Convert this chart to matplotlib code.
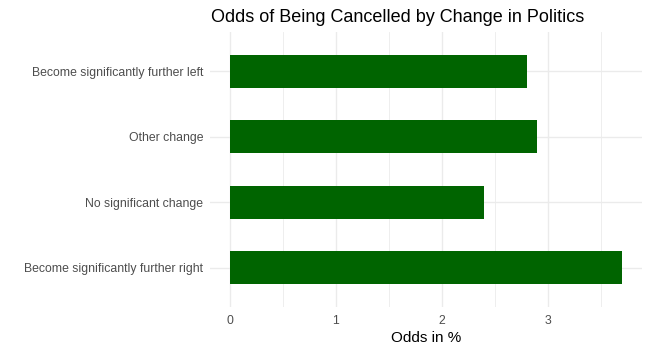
import matplotlib
matplotlib.use("Agg")
import matplotlib.pyplot as plt

categories = ["Become significantly further right", "No significant change",
              "Other change", "Become significantly further left"]
odds = [3.7, 2.4, 2.9, 2.8]
xticks = [0, 1, 2, 3]

plt.rcParams['font.family'] = ['Liberation Sans', 'DejaVu Sans']

fig = plt.figure(figsize=(6.5, 3.52), dpi=100)
# panel pixel extents: x 210..642, y 32..307
ax = fig.add_axes([210/650, 1-307/352, (642-210)/650, (307-32)/352])
ypos = list(range(1, len(categories)+1))
ax.barh(ypos, odds, height=0.5, color="#006400", zorder=3)
ax.set_xlim(-0.185, 3.885)
ax.set_ylim(0.4, 4.6)
ax.set_yticks(ypos)
ax.set_yticklabels(categories)
ax.set_xticks(xticks)
ax.set_xticklabels([str(t) for t in xticks])
ax.set_xticks([0.5, 1.5, 2.5, 3.5], minor=True)
ax.grid(True, which='major', color="#EBEBEB", linewidth=1.0, zorder=0)
ax.grid(True, which='minor', axis='x', color="#EBEBEB", linewidth=0.6, zorder=0)
for s in ax.spines.values():
    s.set_visible(False)
ax.tick_params(axis='both', which='both', length=0, labelsize=8.8, labelcolor="#4D4D4D")
ax.tick_params(axis='y', pad=5)
ax.tick_params(axis='x', pad=5.5)
ax.set_xlabel("Odds in %", fontsize=11, color="black", labelpad=3.5)
fig.text(398/650, 1-17/352, "Odds of Being Cancelled by Change in Politics",
         ha='center', va='center', fontsize=13, color='black')
fig.savefig("out.png", dpi=100)
